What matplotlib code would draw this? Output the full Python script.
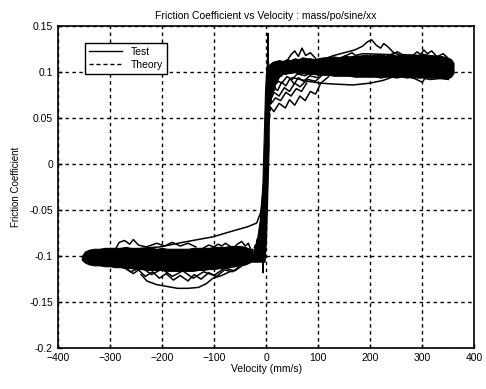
import matplotlib
matplotlib.use("Agg")
import matplotlib.pyplot as plt

plt.rcParams['font.family'] = ['Liberation Sans', 'DejaVu Sans']

# dense part of the test loops, positive velocity (mm/s, friction coeff)
pos_v = [3, 8, 12, 18, 25, 32, 40, 47, 55, 62, 70, 78, 85, 92, 100, 110, 120,
         130, 140, 150, 160, 170, 180, 190, 200, 210, 220, 230, 240, 250, 260,
         270, 280, 290, 300, 310, 320, 330, 340, 348, 355, 360]
pos_hi = [0.104, 0.109, 0.111, 0.112, 0.113, 0.112, 0.114, 0.113, 0.115, 0.114,
          0.116, 0.115, 0.115, 0.114, 0.115, 0.116, 0.116, 0.117, 0.116, 0.118,
          0.117, 0.118, 0.118, 0.119, 0.118, 0.119, 0.119, 0.118, 0.120, 0.118,
          0.119, 0.118, 0.119, 0.118, 0.120, 0.119, 0.118, 0.118, 0.117, 0.116,
          0.114, 0.110]
pos_lo = [0.060, 0.068, 0.078, 0.088, 0.095, 0.098, 0.099, 0.099, 0.100, 0.099,
          0.099, 0.098, 0.098, 0.098, 0.097, 0.097, 0.097, 0.096, 0.096, 0.096,
          0.096, 0.095, 0.095, 0.095, 0.095, 0.095, 0.094, 0.095, 0.095, 0.094,
          0.095, 0.094, 0.095, 0.094, 0.094, 0.094, 0.094, 0.094, 0.094, 0.093,
          0.095, 0.099]

# dense part, negative velocity
neg_v = [-354, -348, -340, -330, -320, -310, -300, -290, -280, -270, -260, -250,
         -240, -230, -220, -210, -200, -190, -180, -170, -160, -150, -140, -130,
         -120, -110, -100, -90, -80, -70, -60, -50, -40, -32, -26]
neg_hi = [-0.100, -0.095, -0.093, -0.092, -0.092, -0.091, -0.091, -0.091, -0.091,
          -0.090, -0.091, -0.091, -0.091, -0.091, -0.091, -0.092, -0.091, -0.092,
          -0.092, -0.092, -0.092, -0.092, -0.091, -0.091, -0.091, -0.091, -0.090,
          -0.090, -0.090, -0.089, -0.089, -0.089, -0.090, -0.092, -0.092]
neg_lo = [-0.104, -0.107, -0.109, -0.110, -0.110, -0.111, -0.111, -0.112, -0.112,
          -0.113, -0.113, -0.114, -0.114, -0.115, -0.115, -0.115, -0.115, -0.116,
          -0.116, -0.116, -0.116, -0.116, -0.116, -0.115, -0.115, -0.114, -0.114,
          -0.113, -0.113, -0.112, -0.111, -0.110, -0.109, -0.107, -0.105]

# steep stick-slip transition around zero velocity
step_f = [-0.106, -0.09, -0.08, -0.06, -0.04, -0.02, 0.0, 0.02, 0.04, 0.06,
          0.08, 0.10, 0.108]
step_left = [-28, -22, -17, -12, -9, -7, -6, -5, -4, -3, -2, 0, 2]
step_right = [-3, -1, 0, 1, 2, 3, 4, 5, 5, 6, 8, 10, 14]

# individual test traces that stand out from the bundle
test_traces = [
    ([110, 130, 150, 170, 185, 195, 203, 212, 220, 226, 235, 245, 260, 280],
     [0.114, 0.118, 0.121, 0.124, 0.128, 0.133, 0.135, 0.129, 0.126, 0.131,
      0.127, 0.121, 0.118, 0.116]),
    ([40, 48, 55, 62, 69, 76, 85, 95],
     [0.112, 0.119, 0.123, 0.117, 0.126, 0.118, 0.121, 0.115]),
    ([280, 290, 297, 303, 310, 318, 326],
     [0.117, 0.122, 0.119, 0.124, 0.120, 0.123, 0.118]),
    ([150, 165, 172, 185, 240, 252, 262, 330, 340, 348],
     [0.117, 0.121, 0.118, 0.120, 0.119, 0.122, 0.119, 0.117, 0.120, 0.116]),
    ([270, 285, 300, 305, 315, 335, 350],
     [0.095, 0.093, 0.089, 0.093, 0.092, 0.093, 0.092]),
    ([8, 15, 25, 37, 45, 55, 65, 75, 85, 95, 105, 120],
     [0.062, 0.057, 0.066, 0.061, 0.070, 0.064, 0.074, 0.069, 0.079, 0.076,
      0.088, 0.095]),
    ([50, 80, 104, 130, 167, 200, 225, 250],
     [0.094, 0.090, 0.088, 0.087, 0.086, 0.088, 0.091, 0.096]),
    ([6, 15, 25, 35, 45, 55, 65, 80, 95, 110],
     [0.070, 0.078, 0.074, 0.083, 0.079, 0.088, 0.084, 0.092, 0.090, 0.098]),
    ([5, 12, 20, 30, 40, 50, 60, 75, 90],
     [0.080, 0.086, 0.091, 0.088, 0.095, 0.092, 0.098, 0.096, 0.101]),
    ([6, 14, 22, 30, 38, 46, 54, 62, 72, 84, 98],
     [0.075, 0.084, 0.080, 0.089, 0.085, 0.093, 0.087, 0.094, 0.090, 0.096, 0.094]),
    ([10, 18, 28, 38, 48, 58, 68, 78],
     [0.066, 0.072, 0.069, 0.078, 0.074, 0.082, 0.079, 0.088]),
    ([2, 3, 4, 4, 5],
     [0.090, 0.120, 0.142, 0.115, 0.104]),
    ([-300, -260, -230, -204, -160, -102, -60, -35, -18, -10, -6],
     [-0.095, -0.093, -0.091, -0.090, -0.085, -0.079, -0.072, -0.068, -0.064,
      -0.052, -0.030]),
    ([-240, -229, -210, -190, -170, -150, -130, -115, -102, -85, -70],
     [-0.120, -0.127, -0.131, -0.133, -0.135, -0.135, -0.134, -0.130, -0.124,
      -0.121, -0.117]),
    ([-280, -260, -240, -220, -200, -180, -160, -140, -120, -100, -80, -60, -40],
     [-0.110, -0.117, -0.112, -0.120, -0.114, -0.122, -0.116, -0.124, -0.117,
      -0.121, -0.113, -0.116, -0.108]),
    ([-270, -255, -245, -232, -218, -205, -192, -178, -165, -150, -138, -125,
      -110, -95, -80, -65, -50],
     [-0.113, -0.119, -0.115, -0.122, -0.117, -0.124, -0.119, -0.126, -0.121,
      -0.127, -0.120, -0.125, -0.118, -0.122, -0.115, -0.117, -0.111]),
    ([-290, -282, -272, -262, -255, -245, -230, -210, -195, -180, -165, -150, -135],
     [-0.093, -0.085, -0.083, -0.087, -0.082, -0.088, -0.090, -0.086, -0.089,
      -0.085, -0.089, -0.086, -0.090]),
    ([-120, -110, -100, -92, -85, -78, -70],
     [-0.091, -0.088, -0.090, -0.087, -0.089, -0.086, -0.089]),
    ([-65, -55, -47, -40, -34, -28],
     [-0.092, -0.087, -0.084, -0.089, -0.086, -0.095]),
    ([-6, -6, -5],
     [-0.090, -0.118, -0.100]),
]

# model curve (mostly hidden under the measured data)
theory_v = [-350, -200, -100, -50, -25, -10, -5, 0, 5, 10, 25, 50, 100, 200, 350]
theory_f = [-0.105, -0.106, -0.104, -0.100, -0.095, -0.070, -0.040, 0.0, 0.040,
            0.070, 0.095, 0.100, 0.104, 0.106, 0.105]

fig = plt.figure(figsize=(4.86, 3.89), dpi=100)
ax = fig.add_axes([0.119, 0.105, 0.857, 0.828])

ax.fill_between(pos_v, pos_lo, pos_hi, color='black', lw=0.8)
ax.fill_between(neg_v, neg_lo, neg_hi, color='black', lw=0.8)
ax.fill_betweenx(step_f, step_left, step_right, color='black', lw=0.8)
for v, f in test_traces:
    ax.plot(v, f, color='black', lw=1.1)
test_line, = ax.plot([], [], color='black', lw=1.0)
theory_line, = ax.plot(theory_v, theory_f, color='black', lw=1.0, ls=(0, (3, 2)))

ax.set_xlim(-400, 400)
ax.set_ylim(-0.2, 0.15)
ax.set_xticks([-400, -300, -200, -100, 0, 100, 200, 300, 400])
ax.set_yticks([-0.2, -0.15, -0.1, -0.05, 0, 0.05, 0.1, 0.15])
ax.set_yticklabels(['-0.2', '-0.15', '-0.1', '-0.05', '0', '0.05', '0.1', '0.15'])
ax.grid(True, color='black', ls=(0, (2.5, 2.5)), lw=1.0)
ax.set_axisbelow(True)
ax.tick_params(direction='in', length=3, labelsize=7.5, width=1.0)
for s in ax.spines.values():
    s.set_linewidth(1.2)

ax.set_xlabel('Velocity (mm/s)', fontsize=7.5, labelpad=1)
ax.set_ylabel('Friction Coefficient', fontsize=7, labelpad=6)
ax.set_title('Friction Coefficient vs Velocity : mass/po/sine/xx', fontsize=7.5, pad=5)

leg = ax.legend([test_line, theory_line], ['Test', 'Theory'], loc='upper left',
                bbox_to_anchor=(0.052, 0.965), fontsize=7.5, fancybox=False,
                framealpha=1, edgecolor='black', handlelength=3.2,
                borderpad=0.4, labelspacing=0.3)
leg.get_frame().set_linewidth(1.0)

fig.savefig('out.png', dpi=100)
